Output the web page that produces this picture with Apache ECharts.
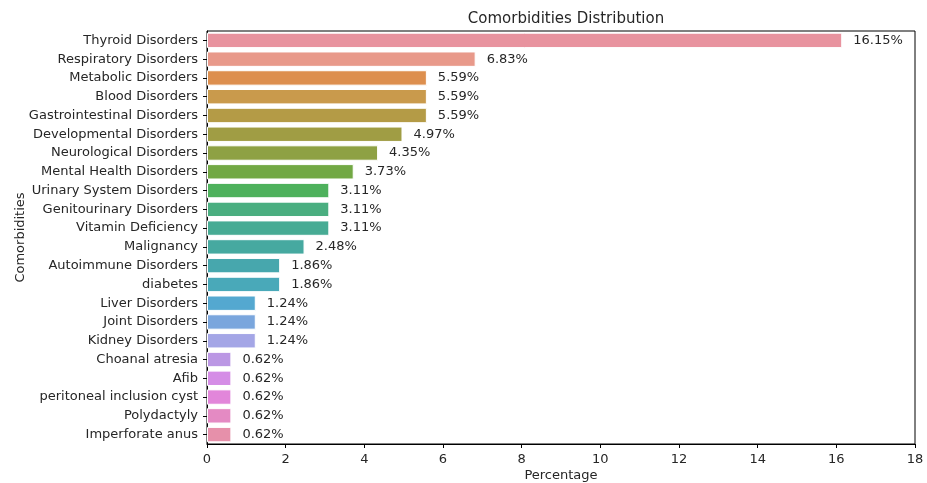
<!DOCTYPE html>
<html>
<head>
<meta charset="utf-8">
<script src="https://cdn.jsdelivr.net/npm/echarts@6/dist/echarts.min.js"></script>
<style>
  html, body { margin: 0; padding: 0; background: #fff; }
  #chart { width: 927px; height: 483px; }
</style>
</head>
<body>
<div id="chart"></div>
<script>
var categories = ['Thyroid Disorders', 'Respiratory Disorders', 'Metabolic Disorders', 'Blood Disorders',
  'Gastrointestinal Disorders', 'Developmental Disorders', 'Neurological Disorders', 'Mental Health Disorders',
  'Urinary System Disorders', 'Genitourinary Disorders', 'Vitamin Deficiency', 'Malignancy',
  'Autoimmune Disorders', 'diabetes', 'Liver Disorders', 'Joint Disorders', 'Kidney Disorders',
  'Choanal atresia', 'Afib', 'peritoneal inclusion cyst', 'Polydactyly', 'Imperforate anus'];
var percentages = [16.15, 6.83, 5.59, 5.59, 5.59, 4.97, 4.35, 3.73, 3.11, 3.11, 3.11, 2.48,
  1.86, 1.86, 1.24, 1.24, 1.24, 0.62, 0.62, 0.62, 0.62, 0.62];
var barColors = ['#e8939f', '#e8998a', '#dd8f4e', '#c99a4c', '#b49b46', '#a09d44', '#8ea144', '#72a844',
  '#4eb15c', '#4aae80', '#47ab94', '#46a9a0', '#47a7ad', '#49a9b9', '#54a8d0', '#7aa6dd', '#a4a6e6',
  '#bb97e4', '#d58de6', '#e286da', '#e48ac3', '#e690aa'];
var xTicks = [0, 2, 4, 6, 8, 10, 12, 14, 16, 18];

var font = 'DejaVu Sans';
var textColor = '#262626';

var barData = [];
for (var i = 0; i < categories.length; i++) {
  barData.push({
    value: percentages[i],
    itemStyle: { color: barColors[i] }
  });
}

var chart = echarts.init(document.getElementById('chart'));
var option = {
  backgroundColor: '#ffffff',
  animation: false,
  title: {
    text: 'Comorbidities Distribution',
    left: 561,
    top: 7,
    textAlign: 'center',
    textStyle: { fontFamily: font, fontSize: 15, fontWeight: 'normal', color: textColor }
  },
  grid: {
    left: 207,
    right: 12,
    top: 31,
    bottom: 39,
    outerBoundsMode: 'none',
    containLabel: false,
    show: true,
    borderColor: '#000',
    borderWidth: 1,
    backgroundColor: 'transparent'
  },
  xAxis: {
    type: 'value',
    min: xTicks[0],
    max: xTicks[xTicks.length - 1],
    interval: 2,
    name: 'Percentage',
    nameLocation: 'middle',
    nameGap: 25,
    nameMoveOverlap: false,
    nameTextStyle: { fontFamily: font, fontSize: 13, color: textColor },
    splitLine: { show: false },
    axisLine: { show: true, lineStyle: { color: '#000' } },
    axisTick: { show: true, length: 4, lineStyle: { color: '#000' } },
    axisLabel: { fontFamily: font, fontSize: 13, color: textColor, margin: 9 }
  },
  yAxis: {
    type: 'category',
    data: categories,
    inverse: true,
    name: 'Comorbidities',
    nameLocation: 'middle',
    nameGap: 180,
    nameMoveOverlap: false,
    nameRotate: 90,
    nameTextStyle: { fontFamily: font, fontSize: 13, color: textColor },
    axisLine: { show: true, lineStyle: { color: '#000' } },
    axisTick: { show: true, alignWithLabel: true, length: 4, lineStyle: { color: '#000' } },
    axisLabel: { fontFamily: font, fontSize: 13, color: textColor, margin: 9, interval: 0 }
  },
  series: [{
    type: 'bar',
    data: barData,
    barCategoryGap: '18%',
    itemStyle: { borderColor: '#ffffff', borderWidth: 1 },
    label: {
      show: true,
      position: 'right',
      distance: 11,
      fontFamily: font,
      fontSize: 13,
      color: textColor,
      formatter: function (p) { return p.value.toFixed(2) + '%'; }
    }
  }]
};
chart.setOption(option);
</script>
</body>
</html>
